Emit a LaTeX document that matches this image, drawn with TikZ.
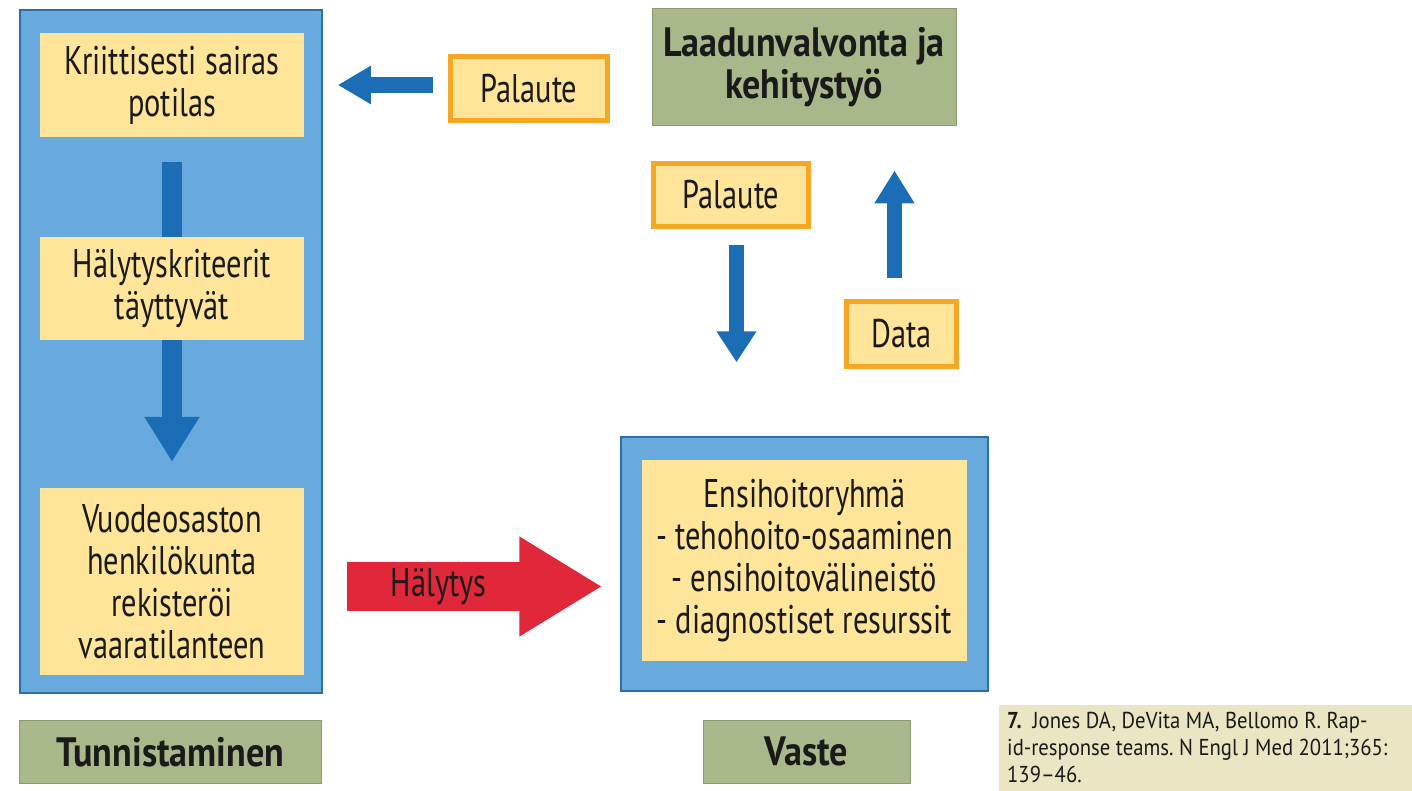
\documentclass[tikz,border=0pt]{standalone}
\usepackage{fontspec}
\setmainfont{PT Sans}[FakeStretch=0.76, BoldFeatures={FakeStretch=0.88}]
\newfontfamily\citefont{PT Sans}[FakeStretch=0.9]
\usetikzlibrary{arrows.meta}
\definecolor{panelblue}{HTML}{68AADE}
\definecolor{panelborder}{HTML}{2C6FA8}
\definecolor{arrowblue}{HTML}{1B6EB5}
\definecolor{yellowfill}{HTML}{FFE59A}
\definecolor{tagorange}{HTML}{F5A623}
\definecolor{greenfill}{HTML}{A9B88A}
\definecolor{greenborder}{HTML}{8C9A72}
\definecolor{alarmred}{HTML}{E1273A}
\definecolor{citebg}{HTML}{EAE6C3}
\definecolor{txt}{HTML}{1A1A1A}
\tikzset{
  panel/.style={rectangle, fill=panelblue, draw=panelborder, line width=1.5pt, inner sep=0pt},
  ybox/.style={rectangle, fill=yellowfill, inner sep=0pt, align=center, text=txt,
    font=\fontsize{40}{42}\selectfont},
  tagbox/.style={ybox, draw=tagorange, line width=5pt},
  greenbox/.style={rectangle, fill=greenfill, draw=greenborder, line width=1pt, inner sep=0pt,
    align=center, text=txt, font=\bfseries\fontsize{41}{42}\selectfont},
}
\begin{document}
\frenchspacing
\begin{tikzpicture}[x=1pt,y=-1pt]
\useasboundingbox (0,0) rectangle (1412,791);
\fill[white] (0,0) rectangle (1412,791);

% left panel
\node[panel, minimum width=302pt, minimum height=683pt] (leftpanel) at (171,351.5) {};
\node[ybox, minimum width=264pt, minimum height=104pt] (box1) at (172,85) {Kriittisesti sairas\\potilas};
\node[ybox, minimum width=264pt, minimum height=103pt] (box2) at (172,288.5) {Hälytyskriteerit\\täyttyvät};
\node[ybox, minimum width=264pt, minimum height=187pt] (box3) at (172,581.5) {Vuodeosaston\\henkilökunta\\rekisteröi\\vaaratilanteen};
\node[greenbox, minimum width=302pt, minimum height=63pt] (tunn) at (170.5,752) {Tunnistaminen};

% top right
\node[tagbox, minimum width=157pt, minimum height=64pt] (palaute1) at (529,88.5) {Palaute};
\node[greenbox, minimum width=304pt, minimum height=117pt] (laadun) at (804,67.5) {Laadunvalvonta ja\\kehitystyö};
\node[tagbox, minimum width=155pt, minimum height=63pt] (palaute2) at (731,195) {Palaute};
\node[tagbox, minimum width=110pt, minimum height=65pt] (data) at (901.5,334) {Data};

% response
\node[panel, minimum width=367pt, minimum height=254pt] (vouter) at (804.5,564) {};
\node[ybox, minimum width=325pt, minimum height=201pt] (ensi) at (804.5,560.5) {Ensihoitoryhmä\\- tehohoito-osaaminen\\- ensihoitovälineistö\\- diagnostiset resurssit};
\node[greenbox, minimum width=207pt, minimum height=63pt] (vaste) at (806.5,751.5) {Vaste};

% citation
\node[anchor=north west, fill=citebg, minimum width=413pt, minimum height=86pt, inner sep=0pt] (cite) at (999,705) {};
\node[anchor=north west, inner sep=0pt, align=left, text=txt, font=\citefont\fontsize{23}{27}\selectfont] (citetext) at (1007,712)
  {\textbf{7.}\ \ Jones DA, DeVita MA, Bellomo R. Rap-\\id-response teams. N Engl J Med 2011;365:\\139–46.};

% connectors
\draw[arrowblue, line width=20pt, shorten <=25pt] (box1) -- (box2);
\draw[arrowblue, line width=20pt, -{Triangle[length=45pt,width=52pt]}, shorten >=26pt] (box2) -- (box3);

\coordinate (fy) at (0,85);
\draw[arrowblue, line width=16pt, -{Triangle[length=33pt,width=36pt]}, shorten <=15pt, shorten >=15pt]
  (palaute1.west |- fy) -- (leftpanel.east |- fy);

\draw[arrowblue, line width=15pt, -{Triangle[length=31pt,width=38pt]}, shorten <=16pt, shorten >=74pt]
  ([xshift=5.5pt]palaute2.south) -- ([xshift=5.5pt]palaute2.south |- vouter.north);

\draw[arrowblue, line width=15pt, -{Triangle[length=33pt,width=38pt]}, shorten <=21pt, shorten >=44pt]
  ([xshift=-7pt]data.north) -- ([xshift=-7pt]data.north |- laadun.south);

\coordinate (hy) at (0,586.5);
\draw[alarmred, line width=49pt, -{Triangle[length=83pt,width=94pt]}, shorten <=24pt, shorten >=18pt]
  (leftpanel.east |- hy) -- (vouter.west |- hy)
  node[pos=0.39, text=txt, font=\fontsize{40}{42}\selectfont] {Hälytys};
\end{tikzpicture}
\end{document}
